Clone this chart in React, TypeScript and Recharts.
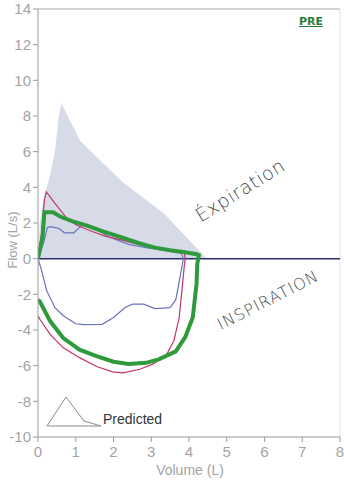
import React from 'react';
import { ComposedChart, Area, Line, XAxis, YAxis, ReferenceLine } from 'recharts';

// predicted envelope (volume L / flow L/s)
const predVol = [0, 0.05, 0.15, 0.3, 0.45, 0.55, 0.62, 1.12, 2.24, 3.35, 4.47];
const predFlow = [0, 2.0, 3.4, 4.5, 6.0, 8.0, 8.7, 6.6, 4.3, 2.5, 0];

// measured loops: expiration then inspiration
const greenVol = [0, 0.12, 0.17, 0.4, 0.6, 0.9, 1.3, 1.7, 2.2, 2.7, 3.1, 3.5, 3.9, 4.2, 4.26, 4.22, 4.2, 4.1, 3.9, 3.65, 3.2, 2.86, 2.4, 2.0, 1.55, 1.1, 0.67, 0.32, 0.05, 0];
const greenFlow = [0, 1.2, 2.6, 2.6, 2.35, 2.1, 1.85, 1.55, 1.2, 0.85, 0.62, 0.47, 0.36, 0.25, 0.2, -0.3, -1.4, -3.3, -4.4, -5.2, -5.65, -5.84, -5.9, -5.78, -5.46, -5.1, -4.45, -3.5, -2.4, -2.3];

const redVol = [0, 0.1, 0.17, 0.22, 0.45, 0.75, 1.0, 1.4, 1.8, 2.2, 2.65, 3.1, 3.5, 3.87, 3.9, 3.87, 3.83, 3.74, 3.6, 3.4, 3.05, 2.7, 2.25, 1.98, 1.55, 1.1, 0.67, 0.32, 0.05, 0];
const redFlow = [0, 1.5, 3.3, 3.75, 3.1, 2.3, 1.9, 1.55, 1.25, 1.05, 0.8, 0.6, 0.5, 0.42, 0, -0.5, -1.4, -3.3, -4.6, -5.4, -5.9, -6.2, -6.4, -6.35, -6.05, -5.55, -5.0, -4.25, -3.4, -3.2];

const blueVol = [0, 0.15, 0.25, 0.32, 0.55, 0.7, 0.95, 1.2, 1.5, 1.9, 2.4, 2.9, 3.4, 3.8, 3.85, 3.8, 3.74, 3.65, 3.5, 3.1, 2.8, 2.5, 2.3, 2.0, 1.7, 1.2, 1.0, 0.67, 0.45, 0.23, 0.1, 0];
const blueFlow = [0, 0.9, 1.75, 1.8, 1.7, 1.45, 1.45, 1.95, 1.7, 1.2, 0.8, 0.6, 0.45, 0.3, 0, -0.6, -1.3, -2.3, -2.75, -2.8, -2.55, -2.55, -2.75, -3.3, -3.68, -3.7, -3.65, -3.2, -2.75, -1.8, -0.7, 0];

const xTicks = [0, 1, 2, 3, 4, 5, 6, 7, 8];
const yTicks = [-10, -8, -6, -4, -2, 0, 2, 4, 6, 8, 10, 12, 14];

const zip = (v: number[], f: number[]) => v.map((x, i) => ({ v: x, f: f[i] }));

const predData = zip(predVol, predFlow);
const greenData = zip(greenVol, greenFlow);
const redData = zip(redVol, redFlow);
const blueData = zip(blueVol, blueFlow);

const axisGray = '#9a9a9a';
const tickStyle = { fill: '#a3a3a3', fontSize: 15, fontFamily: 'Liberation Sans, Arial, sans-serif' };

const PredictedLegend = () => (
  <div style={{ display: 'flex', alignItems: 'flex-end', fontFamily: 'Liberation Sans, Arial, sans-serif', fontSize: 14, color: '#333' }}>
    <svg width={56} height={32} style={{ display: 'block' }}>
      <polyline points="1,30 20,1 38,25 55,30 1,30" fill="none" stroke="#8a8a8a" strokeWidth={1} />
    </svg>
    <span style={{ marginLeft: 1, marginBottom: 1 }}>Predicted</span>
  </div>
);

export default function App() {
  return (
    <div style={{ position: 'absolute', left: 0, top: 0, width: 344, height: 480, background: '#fff' }}>
      <ComposedChart width={344} height={480} margin={{ top: 9, right: 4, bottom: 0, left: 8 }}>
        <XAxis
          type="number"
          dataKey="v"
          domain={[0, 8]}
          ticks={xTicks}
          interval={0}
          height={43}
          stroke={axisGray}
          tick={tickStyle}
          tickSize={5}
          tickMargin={4}
          allowDataOverflow
        />
        <YAxis
          type="number"
          dataKey="f"
          domain={[-10, 14]}
          ticks={yTicks}
          interval={0}
          width={30}
          stroke={axisGray}
          tick={tickStyle}
          tickSize={5}
          tickMargin={2}
          allowDataOverflow
        />
        <Area
          data={predData}
          dataKey="f"
          type="linear"
          baseValue={0}
          stroke="none"
          fill="#d7dbe8"
          fillOpacity={1}
          isAnimationActive={false}
        />
        <ReferenceLine y={14} stroke="#a8a8a8" strokeWidth={1} />
        <ReferenceLine x={8} stroke="#e2e2e2" strokeWidth={1} />
        <ReferenceLine y={0} stroke="#2b306c" strokeWidth={1.5} />
        <Line data={blueData} dataKey="f" type="linear" stroke="#6a72c0" strokeWidth={1.2} dot={false} isAnimationActive={false} />
        <Line data={redData} dataKey="f" type="linear" stroke="#c4336b" strokeWidth={1.2} dot={false} isAnimationActive={false} />
        <Line data={greenData} dataKey="f" type="linear" stroke="#2e9a3c" strokeWidth={4} dot={false} isAnimationActive={false} />
      </ComposedChart>

      <div style={{ position: 'absolute', left: 46, top: 396 }}>
        <PredictedLegend />
      </div>
      <div style={{ position: 'absolute', left: 299, top: 15, fontFamily: 'DejaVu Sans, sans-serif', fontWeight: 'bold', fontSize: 11, color: '#2a7d38', textDecoration: 'underline' }}>
        PRE
      </div>
      <div style={{ position: 'absolute', left: 12, top: 240, transform: 'translate(-50%, -50%) rotate(-90deg)', fontFamily: 'Liberation Sans, Arial, sans-serif', fontSize: 13, color: '#a3a3a3', whiteSpace: 'nowrap' }}>
        Flow (L/s)
      </div>
      <div style={{ position: 'absolute', left: 190, top: 470, transform: 'translate(-50%, -50%)', fontFamily: 'Liberation Sans, Arial, sans-serif', fontSize: 14, color: '#a3a3a3', whiteSpace: 'nowrap' }}>
        Volume (L)
      </div>
      <div style={{ position: 'absolute', left: 240, top: 190, transform: 'translate(-50%, -50%) rotate(-32deg)', fontFamily: 'DejaVu Sans, sans-serif', fontWeight: 200, fontSize: 19, color: '#4a4a4a', whiteSpace: 'nowrap', letterSpacing: 0.5 }}>
        Éxpiration
      </div>
      <div style={{ position: 'absolute', left: 268, top: 300, transform: 'translate(-50%, -50%) rotate(-27deg)', fontFamily: 'DejaVu Sans, sans-serif', fontWeight: 200, fontSize: 16, color: '#4a4a4a', whiteSpace: 'nowrap', letterSpacing: 1 }}>
        INSPIRATION
      </div>
    </div>
  );
}
